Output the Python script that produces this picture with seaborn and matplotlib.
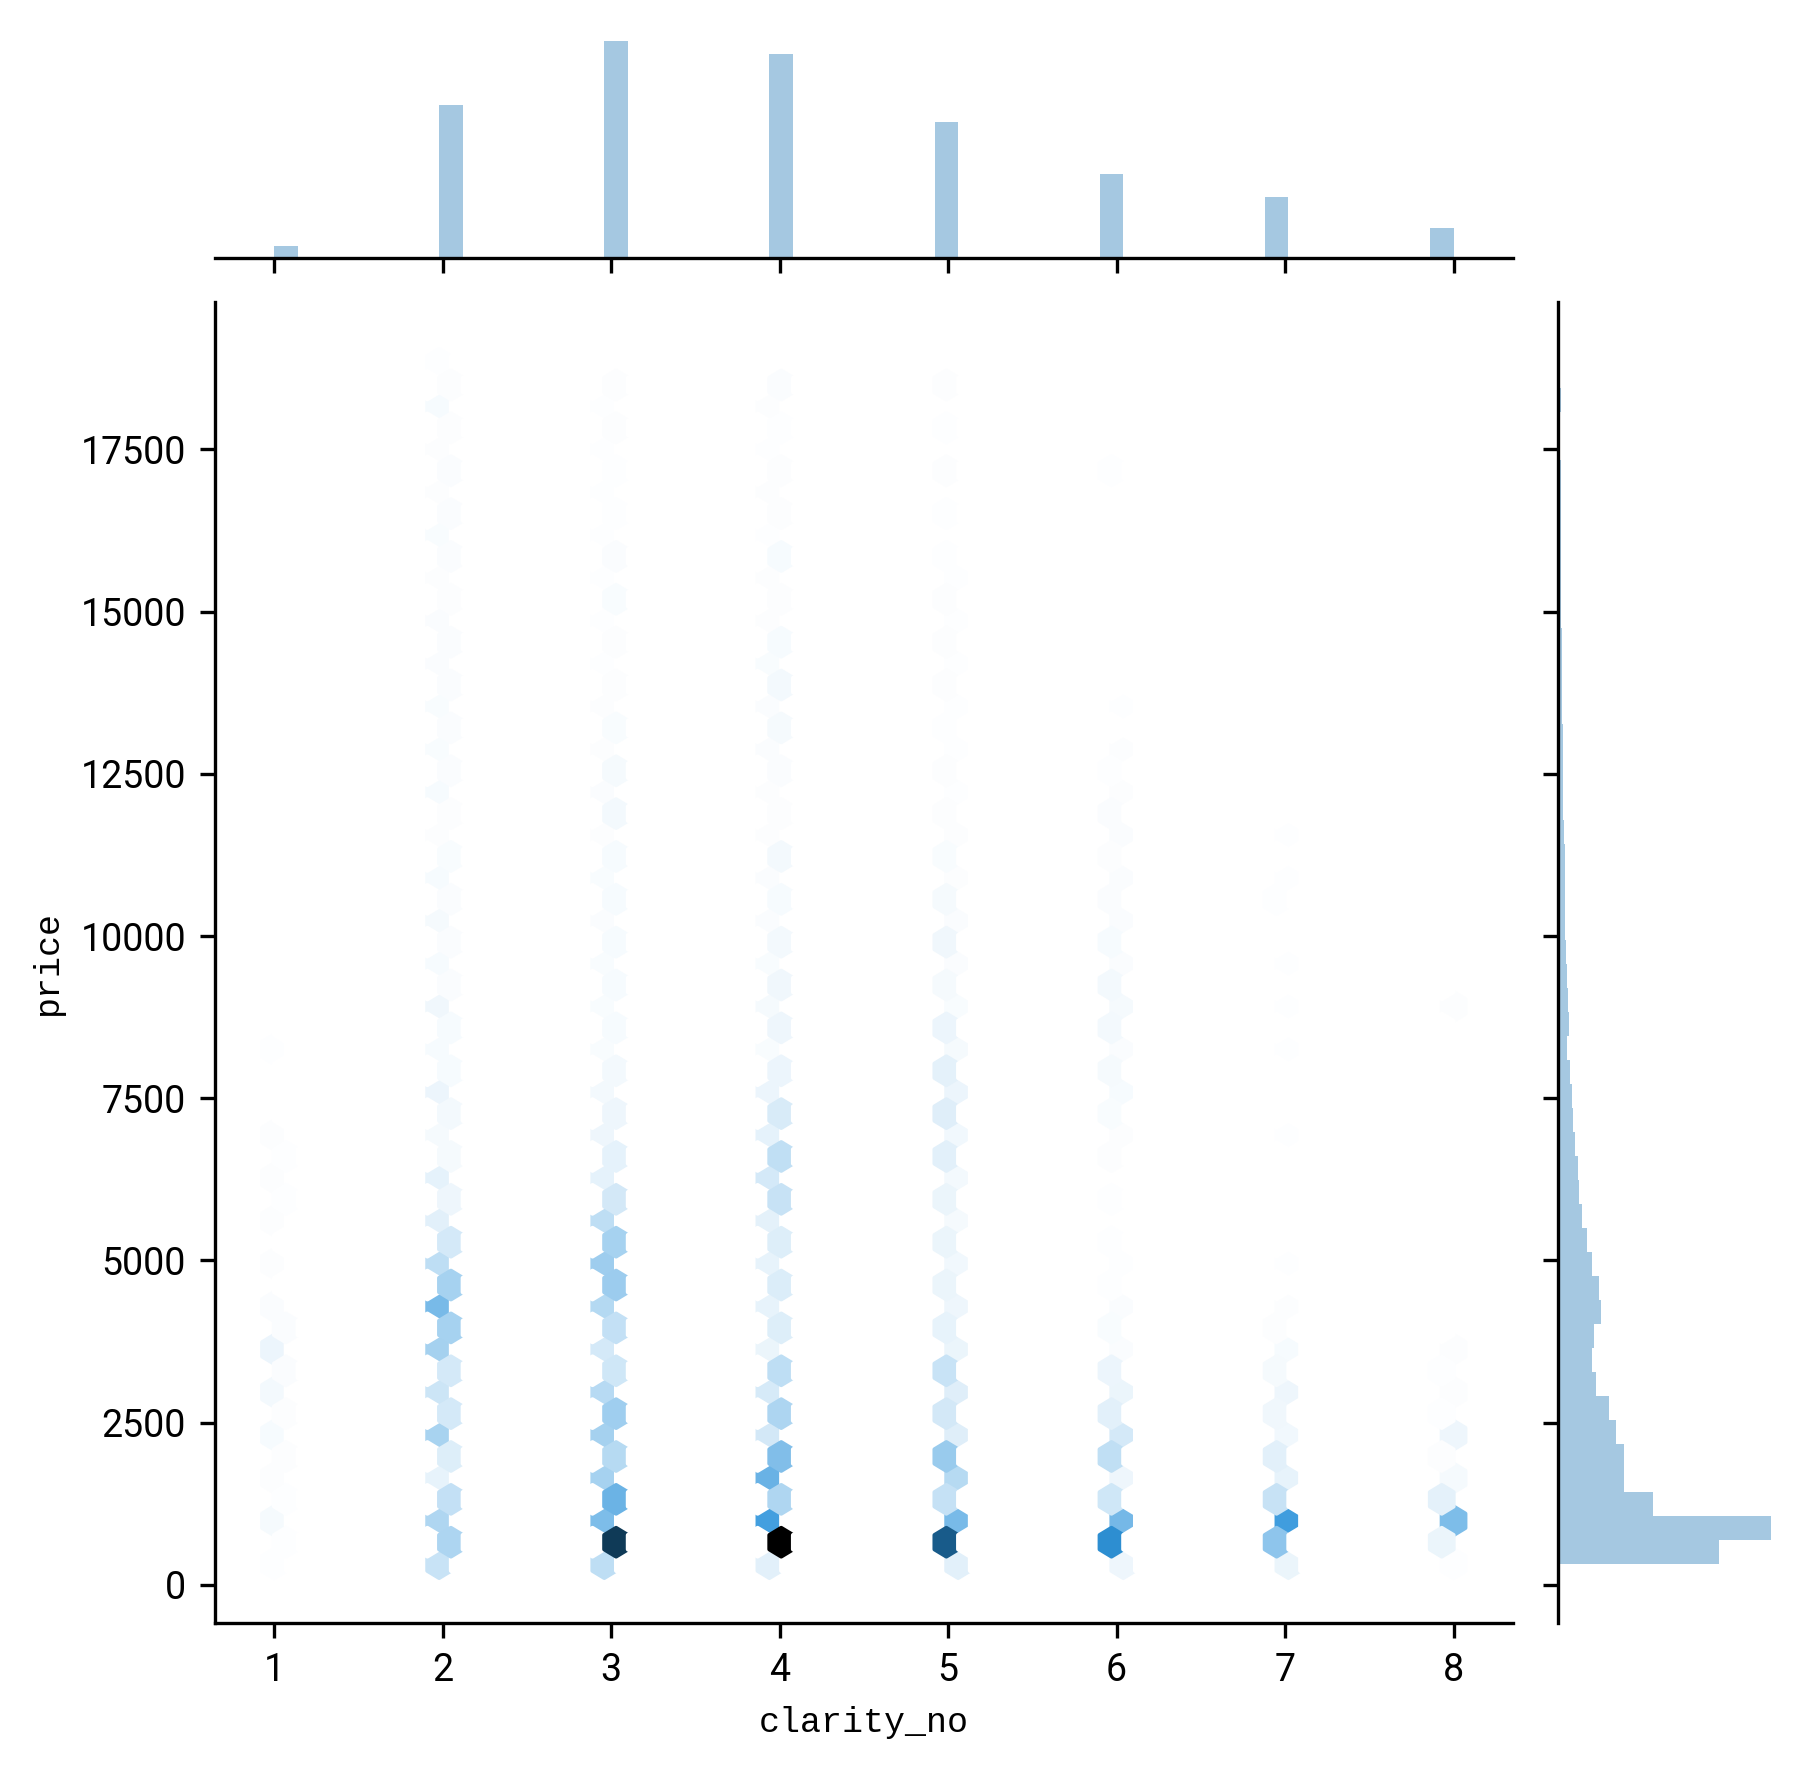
import numpy as np
import matplotlib
matplotlib.use("Agg")
import matplotlib.pyplot as plt
import seaborn as sns

# Marginal histogram of clarity_no (8 levels)
clarity_levels = [1, 2, 3, 4, 5, 6, 7, 8]
clarity_counts = [741, 9194, 13065, 12258, 8171, 5066, 3655, 1790]

# Marginal histogram of price: 50 equal bins from 326 to 18823
price_min, price_max = 326, 18823
price_bin_counts = [7215, 9555, 4245, 2940, 2940, 2580, 2265, 1725, 1545, 1635,
                    1905, 1860, 1545, 1320, 1095, 960, 915, 780, 690, 645,
                    555, 420, 510, 465, 420, 375, 330, 330, 330, 330,
                    285, 240, 240, 240, 240, 195, 195, 195, 195, 150,
                    150, 150, 150, 150, 150, 150, 90, 90, 150, 90]

# Hexagon density, per clarity level, by price row (57 rows, 326 to 18823)
hex_c1 = [5, 4, 25, 4, 10, 8, 22, 10, 28, 12, 45, 12, 15, 3, 10, 3, 8, 5, 10, 5,
          10, 2, 2, 1, 6, 1, 1]
hex_c2 = [125, 190, 185, 140, 55, 80, 200, 100, 120, 100, 210, 205, 310, 205, 150,
          100, 70, 40, 60, 25, 25, 28, 45, 22, 20, 20, 38, 15, 22, 14, 24, 14, 20, 18,
          10, 10, 22, 14, 17, 13, 18, 14, 13, 14, 12, 8, 10, 14, 18, 12, 8, 12, 8, 10,
          22, 8, 6]
hex_c3 = [150, 800, 300, 340, 205, 170, 210, 220, 165, 110, 100, 140, 175, 230, 225,
          205, 150, 105, 60, 62, 40, 40, 30, 28, 18, 22, 17, 20, 17, 20, 15, 20, 16, 20,
          10, 28, 12, 24, 10, 16, 8, 10, 7, 8, 7, 18, 4, 12, 4, 7, 6, 7, 5, 8, 6, 10, 3]
hex_c4 = [70, 1000, 430, 185, 345, 290, 105, 190, 95, 150, 50, 80, 55, 85, 55,
          82, 65, 130, 100, 145, 60, 90, 45, 45, 18, 40, 25, 38, 18, 30, 12, 22, 14, 28,
          10, 8, 8, 12, 12, 24, 15, 28, 17, 22, 8, 10, 10, 22, 5, 8, 8, 10, 6, 6, 8, 12, 3]
hex_c5 = [70, 680, 310, 135, 170, 235, 75, 105, 78, 125, 48, 55, 40, 48, 35,
          50, 27, 50, 28, 70, 35, 75, 45, 65, 24, 45, 16, 24, 12, 38, 12, 24, 10, 17,
          8, 8, 5, 10, 4, 6, 4, 9, 4, 8, 4, 8, 4, 5, 3, 5, 3, 8, 2, 7, 1, 8]
hex_c6 = [40, 500, 320, 110, 42, 145, 100, 70, 48, 45, 15, 18, 12, 6, 5,
          5, 3, 4, 3, 8, 8, 18, 20, 25, 15, 28, 24, 28, 14, 22, 15, 14, 14, 10,
          12, 14, 9, 4, 8, 1, 5, 0, 0, 0, 3, 2, 3, 0, 0, 0, 0, 4]
hex_c7 = [48, 260, 440, 130, 55, 68, 35, 38, 40, 24, 20, 8, 8, 3, 6,
          2, 2, 1, 1, 1, 5, 1, 2, 1, 6, 3, 7, 3, 5, 2, 3, 4, 5, 2,
          4, 1, 2, 1]
hex_c8 = [4, 50, 300, 65, 25, 8, 40, 5, 8, 5, 8, 0, 2, 0, 0,
          0, 0, 0, 0, 0, 0, 0, 0, 0, 1, 0, 8, 0, 2, 0, 2, 0, 2, 0,
          1, 0, 0, 0, 1]
hex_columns = [hex_c1, hex_c2, hex_c3, hex_c4, hex_c5, hex_c6, hex_c7, hex_c8]

plt.rcParams["font.family"] = ["Roboto", "DejaVu Sans"]
plt.rcParams["font.size"] = 9

W, H, DPI = 1811, 1770, 300


def box(left, top, right, bottom):
    return [left / W, 1 - bottom / H, (right - left) / W, (bottom - top) / H]


g = sns.JointGrid(height=6, ratio=5, space=0.2)
fig = g.figure
fig.set_size_inches(W / DPI, H / DPI)
fig.set_dpi(DPI)

# Joint hexbin from the estimated density table
rows = np.linspace(price_min, price_max, 57)
xs, ys = [], []
for level, col in zip(clarity_levels, hex_columns):
    for price, n in zip(rows, col):
        xs.extend([level] * n)
        ys.extend([price] * n)

base = matplotlib.colors.to_rgb("C0")
shades = [sns.utils.set_hls_values(base, l=v) for v in np.linspace(1, 0, 12)]
cmap = sns.blend_palette(shades, as_cmap=True)
g.ax_joint.hexbin(xs, ys, gridsize=50, cmap=cmap,
                  extent=(1, 8, price_min, price_max))

# Marginals
sns.histplot(x=clarity_levels, weights=clarity_counts, bins=50, binrange=(1, 8),
             ax=g.ax_marg_x, color="C0", alpha=0.4, linewidth=0)
edges = np.linspace(price_min, price_max, 51)
centers = (edges[:-1] + edges[1:]) / 2
sns.histplot(y=centers, weights=price_bin_counts, bins=50,
             binrange=(price_min, price_max),
             ax=g.ax_marg_y, color="C0", alpha=0.4, linewidth=0)

g.ax_marg_x.set_ylabel("")
g.ax_marg_y.set_xlabel("")
g.ax_marg_x.tick_params(left=False, labelleft=False, labelbottom=False)
g.ax_marg_y.tick_params(bottom=False, labelbottom=False, labelleft=False)

g.ax_joint.set_xticks(clarity_levels)
g.ax_joint.set_yticks(np.arange(0, 17501, 2500))
label_font = dict(family=["Liberation Mono", "DejaVu Sans"], size=8.4)
g.ax_joint.set_xlabel("clarity_no", labelpad=4.0, **label_font)
g.ax_joint.set_ylabel("price", labelpad=4.0, **label_font)

g.ax_joint.set_position(box(215.2, 301.5, 1513.2, 1623))
g.ax_marg_x.set_position(box(215.2, 0, 1513.2, 258))
g.ax_marg_y.set_position(box(1558, 301.5, 1811, 1623))

g.ax_joint.set_xlim(0.651, 8.354)
g.ax_joint.set_ylim(-589, 19780)
g.ax_marg_x.set_ylim(0, 15500)
g.ax_marg_y.set_xlim(0, 11340)

fig.savefig("out.png", dpi=DPI)
